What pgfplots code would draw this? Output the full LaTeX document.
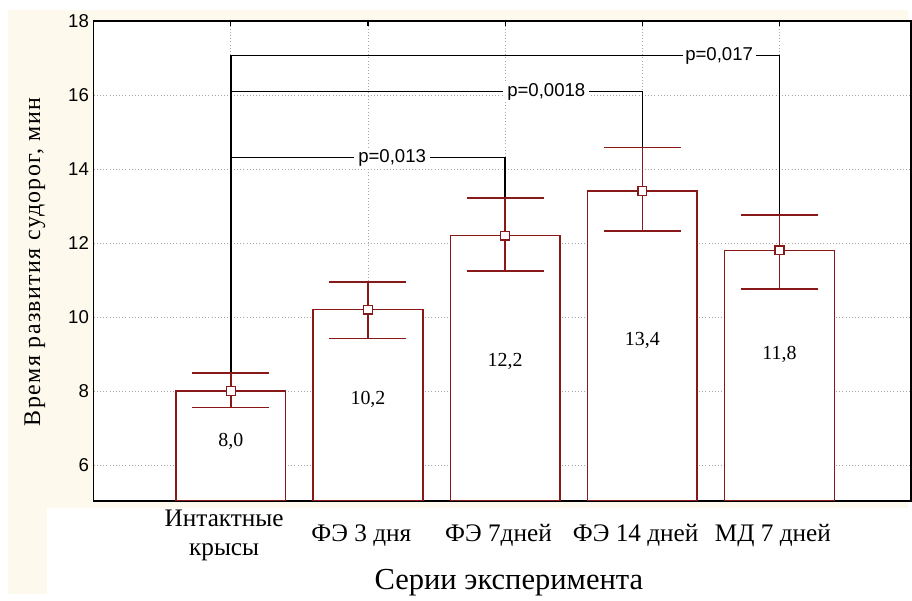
\documentclass[border=0pt]{standalone}
\usepackage{fontspec}
\setmainfont{Liberation Serif}
\newfontfamily\sansf{Liberation Sans}
\newfontfamily\spacedf[LetterSpace=6]{Liberation Serif}
\usepackage{pgfplots}
\pgfplotsset{compat=1.18}
\definecolor{barred}{RGB}{135,25,25}
\definecolor{cream}{RGB}{253,249,236}

\begin{document}
\begin{tikzpicture}
% background, 1px = 0.75pt
\begin{scope}[x=0.75pt,y=0.75pt]
\useasboundingbox (0,0) rectangle (912,596);
\fill[white] (0,0) rectangle (912,596);
\fill[cream] (8,86) rectangle (912,586);
\fill[cream] (8,0) rectangle (47,86);
\end{scope}
\begin{axis}[
    at={(70.5pt,69.75pt)}, anchor=south west,
    scale only axis, width=615.75pt, height=361.5pt,
    xmin=-1, xmax=4.96, ymin=5.03, ymax=18,
    axis background/.style={fill=white},
    xtick={0,...,4},
    xticklabels={{Интактные\\крысы}, ФЭ 3 дня, ФЭ 7дней, ФЭ 14 дней, МД 7 дней},
    xticklabel style={font=\fontsize{19}{22.5}\selectfont, align=center, anchor=center, xshift=-5pt, yshift=-26pt},
    ytick={6,8,...,18},
    yticklabel style={font=\sansf\fontsize{14}{16}\selectfont},
    /pgf/number format/assume math mode=true,
    grid=major, grid style={dotted, gray!70, line width=0.6pt},
    tick align=inside, major tick length=4pt,
    tick style={black, line width=0.8pt},
    ytick style={draw=none},
    axis line style={line width=1.2pt},
]
\addplot[ybar, bar width=0.8, bar shift=0pt, fill=white, draw=barred, line width=1.1pt]
    coordinates {(0,8.0) (1,10.2) (2,12.2) (3,13.4) (4,11.8)};

% significance brackets
\draw[black, line width=1.2pt] (axis cs:0,8.48) -- (axis cs:0,17.06) -- (axis cs:4,17.06) -- (axis cs:4,12.75);
\draw[black, line width=1.2pt] (axis cs:0,16.09) -- (axis cs:3,16.09) -- (axis cs:3,14.58);
\draw[black, line width=1.2pt] (axis cs:0,14.31) -- (axis cs:2,14.31) -- (axis cs:2,13.21);
\node[fill=white, inner xsep=3pt, inner ysep=1pt, font=\sansf\fontsize{14}{16}\selectfont] at (axis cs:1.176,14.31) {p=0,013};
\node[fill=white, inner xsep=3pt, inner ysep=1pt, font=\sansf\fontsize{14}{16}\selectfont] at (axis cs:2.30,16.09) {p=0,0018};
\node[fill=white, inner xsep=2pt, inner ysep=1pt, font=\sansf\fontsize{14}{16}\selectfont] at (axis cs:3.56,17.06) {p=0,017};

\addplot[only marks, mark=square*, mark size=3.3pt,
    mark options={fill=white, draw=barred, line width=1pt},
    error bars/.cd, y dir=both, y explicit,
    error bar style={barred, line width=1.2pt},
    error mark options={rotate=90, barred, mark size=29pt, line width=1.2pt}]
    coordinates {
    (0,8.0) += (0,0.48) -= (0,0.45)
    (1,10.2) += (0,0.75) -= (0,0.78)
    (2,12.2) += (0,1.01) -= (0,0.95)
    (3,13.4) += (0,1.18) -= (0,1.08)
    (4,11.8) += (0,0.95) -= (0,1.04)
    };

% values inside bars
\node[font=\fontsize{15}{18}\selectfont] at (axis cs:0,6.65) {8,0};
\node[font=\fontsize{15}{18}\selectfont] at (axis cs:1,7.76) {10,2};
\node[font=\fontsize{15}{18}\selectfont] at (axis cs:2,8.81) {12,2};
\node[font=\fontsize{15}{18}\selectfont] at (axis cs:3,9.36) {13,4};
\node[font=\fontsize{15}{18}\selectfont] at (axis cs:4,8.99) {11,8};
\end{axis}
\begin{scope}[x=0.75pt,y=0.75pt]
\node[font=\fontsize{23}{27}\selectfont] at (511,11) {Серии эксперимента};
\node[rotate=90, font=\spacedf\fontsize{18}{21}\selectfont] at (35,333) {Время развития судорог, мин};
\end{scope}
\end{tikzpicture}
\end{document}
